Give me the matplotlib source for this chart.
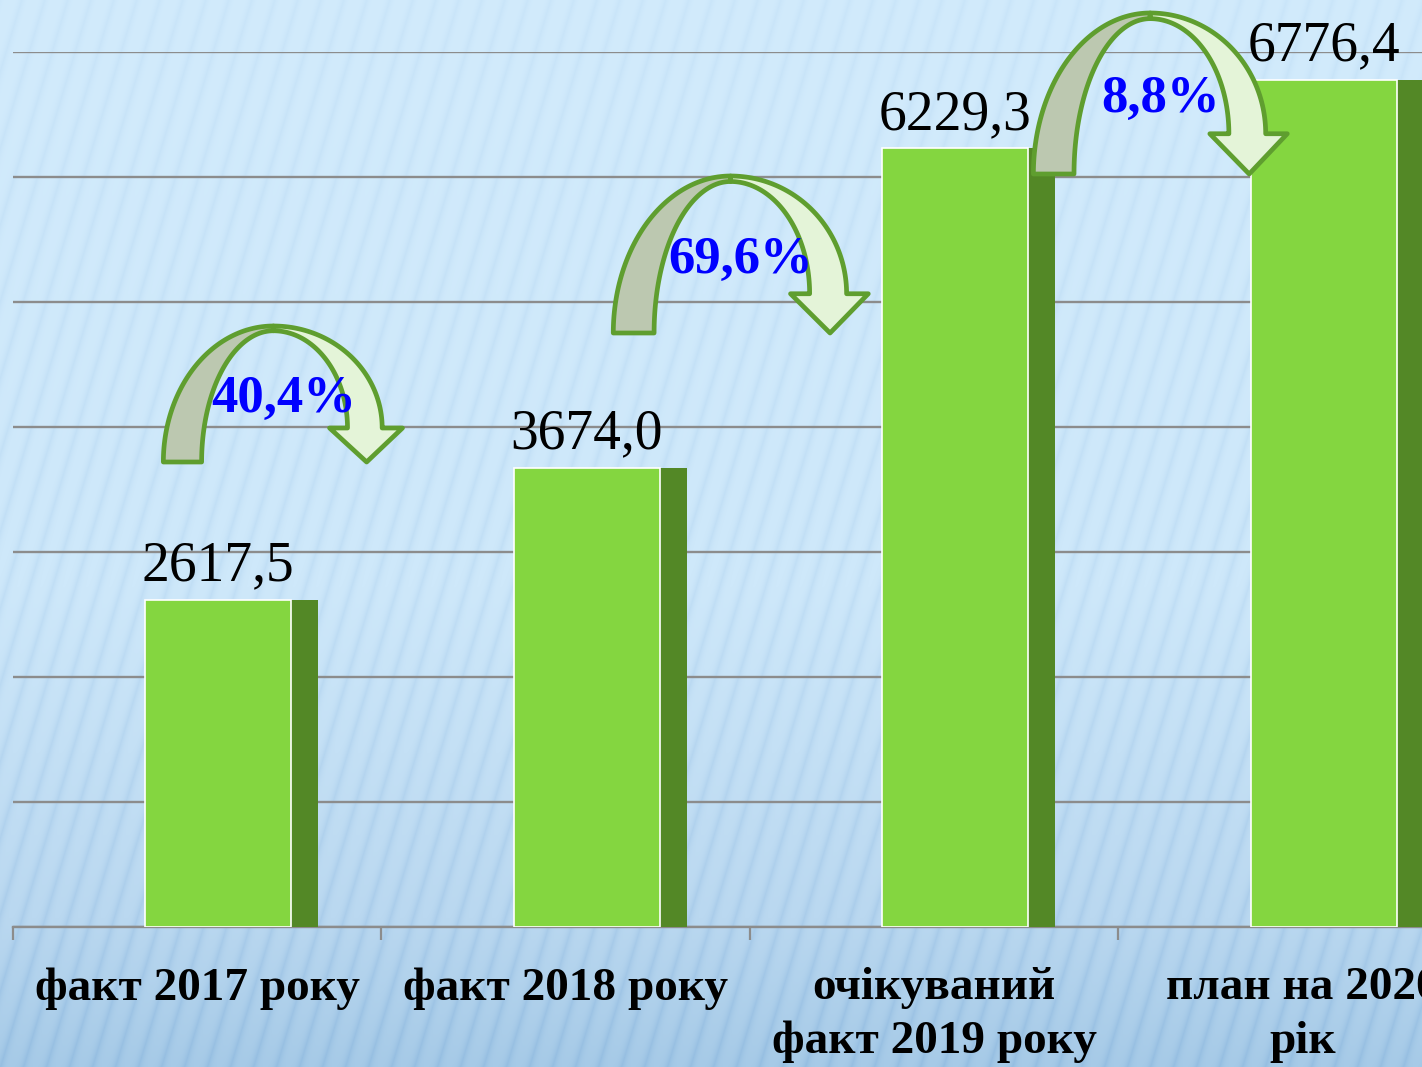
import numpy as np
import matplotlib
matplotlib.use("Agg")
import matplotlib.pyplot as plt
from matplotlib.patches import Polygon
from matplotlib.ticker import FixedLocator

# ---------------- data ----------------
categories = ["факт 2017 року", "факт 2018 року",
              "очікуваний\nфакт 2019 року", "план на 2020\nрік"]
values = [2617.5, 3674.0, 6229.3, 6776.4]
value_labels = ["2617,5", "3674,0", "6229,3", "6776,4"]
growth_labels = ["40,4%", "69,6%", "8,8%"]
y_ticks = [0, 1000, 2000, 3000, 4000, 5000, 6000, 7000]

# ---------------- layout / style ----------------
PW, PH = 1422, 1067
FRONT_OFF, FRONT_W, SIDE_W = -0.141, 0.396, 0.073
FRONT_COL, SIDE_COL = "#84d640", "#538826"
GRID_COL = "#8c8c8c"
ARROW_EDGE, ARROW_DARK, ARROW_LIGHT = "#5f9e2f", "#bcc8b0", "#e4f4d8"
# arrow boxes: (left x, width, tail-bottom y, top y)
arrow_boxes = [(-0.092, 0.649, 3720, 4808),
               (1.129, 0.692, 4752, 6008),
               (2.269, 0.689, 6024, 7312)]

fig = plt.figure(figsize=(PW / 100, PH / 100), dpi=100)

# background: light blue gradient with slanted streaks
bg = fig.add_axes([0, 0, 1, 1], zorder=-10)
yy, xx = np.mgrid[0:PH, 0:PW].astype(float)
t = yy / PH
stops_t = [0.0, 0.55, 0.86, 1.0]
stops_c = np.array([[210, 235, 252], [206, 232, 250], [186, 216, 240], [166, 202, 231]], float)
img = np.zeros((PH, PW, 3))
for k in range(3):
    img[..., k] = np.interp(t, stops_t, stops_c[:, k])
phase = (xx - (PH - yy) * 0.30) / 23.0
streak = np.abs(((phase % 1.0) - 0.5)) * 2  # triangle wave 0..1
amp = 6 + 6 * t
img -= (streak[..., None] ** 3) * amp[..., None] * np.array([1.4, 1.0, 0.5])
img = np.clip(img, 0, 255) / 255.0
bg.imshow(img, aspect="auto", extent=[0, 1, 0, 1], interpolation="bilinear")
bg.axis("off")

ax = fig.add_axes([13 / PW, (PH - 927) / PH, 1474 / PW, 875 / PH])
ax.patch.set_alpha(0)
ax.set_xlim(-0.5, 3.5)
ax.set_ylim(0, 7000)

x = np.arange(len(categories))
vals = np.array(values)

# gridlines
ax.set_yticks(y_ticks)
ax.yaxis.grid(True, color=GRID_COL, linewidth=1.7)
ax.set_axisbelow(True)
ax.tick_params(axis="y", left=False, labelleft=False)

# bars (front + side face)
ax.bar(x + FRONT_OFF, vals, width=FRONT_W, align="edge", color=FRONT_COL,
       edgecolor="white", linewidth=1.2, zorder=3)
ax.bar(x + FRONT_OFF + FRONT_W, vals, width=SIDE_W, align="edge", color=SIDE_COL,
       linewidth=0, zorder=2.9)

# value labels
for xi, v, lab in zip(x, vals, value_labels):
    ax.annotate(lab, (xi + FRONT_OFF + FRONT_W / 2, v), xytext=(0, 14),
                textcoords="offset points", ha="center", va="baseline",
                fontsize=40, family="Liberation Serif", color="black", zorder=6)

# curved arrows
def arrow_polys(L, Wd, B, T):
    Hh = T - B
    cx = L + 0.46 * Wd
    th = np.linspace(np.pi, np.pi / 2, 60)
    outer = np.c_[cx + 0.46 * Wd * np.cos(th), B + Hh * np.sin(th)]
    th2 = th[::-1]
    inner = np.c_[cx + 0.30 * Wd * np.cos(th2), B + 0.965 * Hh * np.sin(th2)]
    dark = np.vstack([outer, inner])
    Bh = B + 0.25 * Hh
    th3 = np.linspace(np.pi / 2, 0, 60)
    louter = np.c_[cx + 0.455 * Wd * np.cos(th3), Bh + (T - Bh) * np.sin(th3)]
    head = np.array([[cx + 0.54 * Wd, Bh], [cx + 0.39 * Wd, B],
                     [cx + 0.235 * Wd, Bh], [cx + 0.31 * Wd, Bh]])
    th4 = th3[::-1]
    linner = np.c_[cx + 0.31 * Wd * np.cos(th4), Bh + (B + 0.965 * Hh - Bh) * np.sin(th4)]
    light = np.vstack([louter, head, linner])
    return cx, dark, light

for (L, Wd, B, T), g in zip(arrow_boxes, growth_labels):
    cx, dark, light = arrow_polys(L, Wd, B, T)
    for poly, col in ((dark, ARROW_DARK), (light, ARROW_LIGHT)):
        ax.add_patch(Polygon(poly, closed=True, facecolor=col, edgecolor=ARROW_EDGE,
                             linewidth=3.4, joinstyle="round", zorder=5, clip_on=False))
    ax.text(cx + 0.027, B + 0.465 * (T - B), g, ha="center", va="center",
            fontsize=38, fontweight="bold", family="Liberation Serif",
            color="#0000ff", zorder=7)

# x axis
for s in ("left", "right", "top"):
    ax.spines[s].set_visible(False)
ax.spines["bottom"].set_color(GRID_COL)
ax.spines["bottom"].set_linewidth(1.7)
ax.set_xticks(x)
ax.set_xticklabels(categories, fontsize=34, fontweight="bold",
                   family="Liberation Serif", linespacing=1.36)
ax.tick_params(axis="x", which="major", length=0, pad=29)
ax.xaxis.set_minor_locator(FixedLocator(np.arange(-0.5, 4.0, 1.0)))
ax.tick_params(axis="x", which="minor", length=9.5, width=1.6, color=GRID_COL,
               direction="out")

fig.savefig("out.png", dpi=100)
